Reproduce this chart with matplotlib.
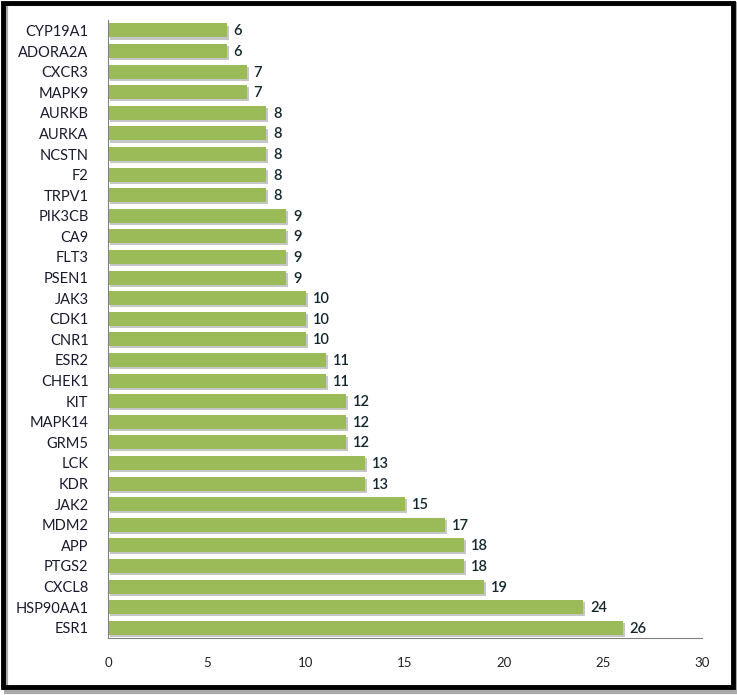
import matplotlib
matplotlib.use("Agg")
import matplotlib.pyplot as plt
import matplotlib.patheffects as pe
from matplotlib.patches import Rectangle
import numpy as np

# targets, top to bottom as shown
genes = ["CYP19A1", "ADORA2A", "CXCR3", "MAPK9", "AURKB", "AURKA", "NCSTN", "F2",
         "TRPV1", "PIK3CB", "CA9", "FLT3", "PSEN1", "JAK3", "CDK1", "CNR1", "ESR2",
         "CHEK1", "KIT", "MAPK14", "GRM5", "LCK", "KDR", "JAK2", "MDM2", "APP",
         "PTGS2", "CXCL8", "HSP90AA1", "ESR1"]
counts = [6, 6, 7, 7, 8, 8, 8, 8, 8, 9, 9, 9, 9, 10, 10, 10, 11, 11, 12, 12, 12,
          13, 13, 15, 17, 18, 18, 19, 24, 26]
xticks = [0, 5, 10, 15, 20, 25, 30]

plt.rcParams["font.family"] = ["Lato", "DejaVu Sans"]

fig = plt.figure(figsize=(7.37, 6.95), dpi=100)
ax = fig.add_axes([0.1465, 0.082, 0.806, 0.889])

# reverse so first gene sits on top
g = genes[::-1]
c = counts[::-1]
y = np.arange(len(g))
ax.barh(y, c, height=0.68, color="#9BBB59", edgecolor="none",
        path_effects=[pe.SimplePatchShadow(offset=(1.5, -1.5), shadow_rgbFace="#b8b8b8", alpha=0.8),
                      pe.Normal()])
for yi, v in zip(y, c):
    ax.text(v + 0.35, yi - 0.05, str(v), va="center", ha="left", fontsize=10.5,
            color="#14262e", fontweight="semibold")

ax.set_yticks(y)
ax.set_yticklabels(g, fontsize=10.5, color="#1a1a2e")
ax.tick_params(axis="y", length=0, pad=14)
ax.set_xticks(xticks)
ax.set_xticklabels([str(t) for t in xticks], fontsize=9.5, color="#222222")
ax.tick_params(axis="x", length=0, pad=14)
ax.set_xlim(0, 30)
ax.set_ylim(-0.5, len(g) - 0.5)
for s in ["top", "right"]:
    ax.spines[s].set_visible(False)
ax.spines["left"].set_color("#808080")
ax.spines["bottom"].set_color("#808080")

# frame with shadow around the whole figure
fig.patches.append(Rectangle((0.008, 0.004), 0.992, 0.99, transform=fig.transFigure,
                             fill=False, edgecolor="#aaaaaa", linewidth=3, zorder=0))
fig.patches.append(Rectangle((0.004, 0.012), 0.99, 0.984, transform=fig.transFigure,
                             fill=False, edgecolor="black", linewidth=3.5, zorder=1))

fig.savefig("out.png", dpi=100)
